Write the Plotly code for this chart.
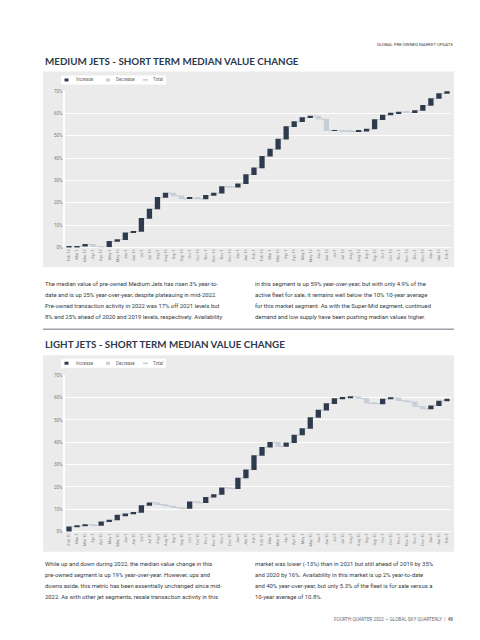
import plotly.graph_objects as go

W, H = 480, 640

# ---------------- data ----------------
periods = ["2021-02-15", "2021-03-01", "2021-03-15", "2021-04-01", "2021-04-15", "2021-05-01",
           "2021-05-15", "2021-06-01", "2021-06-15", "2021-07-01", "2021-07-15", "2021-08-01",
           "2021-08-15", "2021-09-01", "2021-09-15", "2021-10-01", "2021-10-15", "2021-11-01",
           "2021-11-15", "2021-12-01", "2021-12-15", "2022-01-01", "2022-01-15", "2022-02-01",
           "2022-02-15", "2022-03-01", "2022-03-15", "2022-04-01", "2022-04-15", "2022-05-01",
           "2022-05-15", "2022-06-01", "2022-06-15", "2022-07-01", "2022-07-15", "2022-08-01",
           "2022-08-15", "2022-09-01", "2022-09-15", "2022-10-01", "2022-10-15", "2022-11-01",
           "2022-11-15", "2022-12-01", "2022-12-15", "2023-01-01", "2023-01-15", "2023-02-01"]

tick_labels = ["Feb 15", "Mar 1", "Mar 15", "Apr 1", "Apr 15", "May 1", "May 15", "Jun 1",
               "Jun 15", "Jul 1", "Jul 15", "Aug 1", "Aug 15", "Sep 1", "Sep 15", "Oct 1",
               "Oct 15", "Nov 1", "Nov 15", "Dec 1", "Dec 15", "Jan 1", "Jan 15", "Feb 1",
               "Feb 15", "Mar 1", "Mar 15", "Apr 1", "Apr 15", "May 1", "May 15", "Jun 1",
               "Jun 15", "Jul 1", "Jul 15", "Aug 1", "Aug 15", "Sep 1", "Sep 15", "Oct 1",
               "Oct 15", "Nov 1", "Nov 15", "Dec 1", "Dec 15", "Jan 1", "Jan 15", "Feb 1"]

# period-over-period change in median value (percentage points)
medium_change = [0.2, 0.3, 0.9, -1.1, -0.1, 2.5, 0.8, 3.1, 0.5, 5.9, 4.2, 5.2,
                 1.9, -1.2, -1.3, 0.2, -0.3, 1.6, 1.0, 3.0, -0.3, 1.5, 4.1, 3.0,
                 5.2, 3.2, 4.5, 5.6, 2.2, 1.8, 0.7, -1.3, -5.2, 0.1, -0.3, -0.2,
                 0.1, 1.0, 4.2, 2.1, 0.9, 0.4, -0.3, 1.0, 2.3, 3.1, 2.2, 0.9]

light_change = [2.2, 0.3, 0.6, -0.3, 1.6, 0.8, 2.2, 0.6, 0.6, 3.1, 1.2, -0.8,
                -0.7, -0.7, -0.3, 2.9, -0.4, 2.5, 1.2, 3.0, -0.4, 4.8, 3.7, 6.4,
                3.7, 2.2, -1.9, 1.7, 3.5, 2.9, 4.9, 3.3, 2.9, 2.3, 0.5, 0.3,
                -0.8, -2.1, -0.3, 2.2, 0.5, -1.3, -0.5, -2.0, -1.2, 1.5, 2.1, 0.9]

legend_names = ["Increase", "Decrease", "Total"]

# ---------------- style ----------------
DARK = "#2e3b4e"
LIGHT = "#c6ced9"
TOTAL = "#9a9ea4"
PANEL = "#ebebeb"
TEXT = "#353a42"
TITLE = "#2b3a4d"


def px(x):
    return x / W


def py(y):
    return 1 - y / H


fig = go.Figure()

for i, vals in enumerate([medium_change, light_change]):
    suffix = "" if i == 0 else "2"
    fig.add_trace(go.Waterfall(
        x=periods, y=vals, measure=["relative"] * len(vals),
        xaxis="x" + suffix, yaxis="y" + suffix,
        increasing=dict(marker=dict(color=DARK)),
        decreasing=dict(marker=dict(color=LIGHT)),
        totals=dict(marker=dict(color=TOTAL)),
        connector=dict(line=dict(color="#a3a7ac", width=0.6)),
        showlegend=False, hoverinfo="x+y",
    ))

# plot areas: medium 0% at y=239.3 / 70% at 81.7 ; light 0% at 525.7 / 70% at 368.2
domains = [(py(239.3), py(81.7)), (py(525.7), py(368.2))]

axis_common_x = dict(type="category", tickmode="array", tickvals=periods, ticktext=tick_labels,
                     tickangle=-90, tickfont=dict(family="Roboto", size=4, color="#8a8a8a"),
                     showgrid=False, showline=False, zeroline=False, ticks="",
                     domain=[px(57), px(443)], fixedrange=True)
axis_common_y = dict(range=[0, 70], tick0=0, dtick=10, ticksuffix="%",
                     tickfont=dict(family="Roboto", size=4.5, color="#7a7a7a"),
                     gridcolor="white", gridwidth=1, zeroline=True, zerolinecolor="white",
                     zerolinewidth=1, showline=True, linecolor="white", linewidth=1.5,
                     ticks="", fixedrange=True)

fig.update_layout(
    xaxis=dict(axis_common_x, anchor="y"),
    yaxis=dict(axis_common_y, domain=list(domains[0]), anchor="x"),
    xaxis2=dict(axis_common_x, anchor="y2"),
    yaxis2=dict(axis_common_y, domain=list(domains[1]), anchor="x2"),
)

shapes = []
annotations = []

# grey chart panels
for (y0, y1) in [(62, 259), (348, 546)]:
    shapes.append(dict(type="rect", xref="paper", yref="paper", x0=px(35), x1=px(446),
                       y0=py(y1), y1=py(y0), fillcolor=PANEL, line=dict(width=0), layer="below"))

# separator line
shapes.append(dict(type="line", xref="paper", yref="paper", x0=px(35), x1=px(446),
                   y0=py(321.7), y1=py(321.7), line=dict(color="#9ea3a9", width=1.5)))

# legends (one per chart)
for yc in [70.5, 356]:
    shapes.append(dict(type="rect", xref="paper", yref="paper", x0=px(53), x1=px(158),
                       y0=py(yc + 4.5), y1=py(yc - 4.5), fillcolor="white",
                       line=dict(width=0), layer="below"))
    shapes.append(dict(type="rect", xref="paper", yref="paper", x0=px(56.5), x1=px(60.5),
                       y0=py(yc + 1.5), y1=py(yc - 1.5), fillcolor=DARK, line=dict(width=0)))
    shapes.append(dict(type="rect", xref="paper", yref="paper", x0=px(98), x1=px(102),
                       y0=py(yc + 1.5), y1=py(yc - 1.5), fillcolor=LIGHT, line=dict(width=0)))
    shapes.append(dict(type="line", xref="paper", yref="paper", x0=px(135), x1=px(140),
                       y0=py(yc), y1=py(yc), line=dict(color=TOTAL, width=0.8)))
    for name, x in zip(legend_names, [66, 106, 143]):
        annotations.append(dict(text=name, xref="paper", yref="paper", x=px(x), y=py(yc),
                                xanchor="left", yanchor="middle", showarrow=False,
                                font=dict(family="Roboto", size=4.5, color="#666666")))

# titles
for txt, y in [("MEDIUM JETS - SHORT TERM MEDIAN VALUE CHANGE", 51),
               ("LIGHT JETS - SHORT TERM MEDIAN VALUE CHANGE", 337)]:
    annotations.append(dict(text="<b>" + txt + "</b>", xref="paper", yref="paper",
                            x=px(34.5), y=py(y), xanchor="left", yanchor="middle",
                            showarrow=False,
                            font=dict(family="Lato", size=9.8, color=TITLE)))

# header / footer
annotations.append(dict(text="GLOBAL PRE-OWNED MARKET UPDATE", xref="paper", yref="paper",
                        x=px(446.5), y=py(35), xanchor="right", yanchor="middle",
                        showarrow=False, font=dict(family="Roboto", size=4.3, color="#444444")))
annotations.append(dict(text="FOURTH QUARTER 2022 — GLOBAL SKY QUARTERLY  |  <b>49</b>",
                        xref="paper", yref="paper", x=px(446.5), y=py(614), xanchor="right",
                        yanchor="middle", showarrow=False,
                        font=dict(family="Roboto", size=4.6, color="#666a72")))

medium_left = ["The median value of pre-owned Medium Jets has risen 3% year-to-",
               "date and is up 25% year-over-year, despite plateauing in mid-2022.",
               "Pre-owned transaction activity in 2022 was 17% off 2021 levels but",
               "8% and 25% ahead of 2020 and 2019 levels, respectively. Availability"]
medium_right = ["in this segment is up 59% year-over-year, but with only 4.9% of the",
                "active fleet for sale, it remains well below the 10% 10-year average",
                "for this market segment. As with the Super-Mid segment, continued",
                "demand and low supply have been pushing median values higher."]
light_left = ["While up and down during 2022, the median value change in this",
              "pre-owned segment is up 19% year-over-year. However, ups and",
              "downs aside, this metric has been essentially unchanged since mid-",
              "2022. As with other jet segments, resale transaction activity in this"]
light_right = ["market was lower (-13%) than in 2021 but still ahead of 2019 by 35%",
               "and 2020 by 16%. Availability in this market is up 2% year-to-date",
               "and 40% year-over-year, but only 5.3% of the fleet is for sale versus a",
               "10-year average of 10.8%."]

for lines, x, y0 in [(medium_left, 35, 276), (medium_right, 245, 276),
                     (light_left, 35, 558.5), (light_right, 245, 558.5)]:
    for k, line in enumerate(lines):
        annotations.append(dict(text=line, xref="paper", yref="paper", x=px(x),
                                y=py(y0 + 11.1 * k), xanchor="left", yanchor="middle",
                                showarrow=False,
                                font=dict(family="Roboto", size=5.9, color=TEXT)))

fig.update_layout(
    width=W, height=H, margin=dict(l=0, r=0, t=0, b=0),
    paper_bgcolor="white", plot_bgcolor="rgba(0,0,0,0)",
    waterfallgap=0.34, showlegend=False,
    shapes=shapes, annotations=annotations,
)

fig.write_html("out.html")
